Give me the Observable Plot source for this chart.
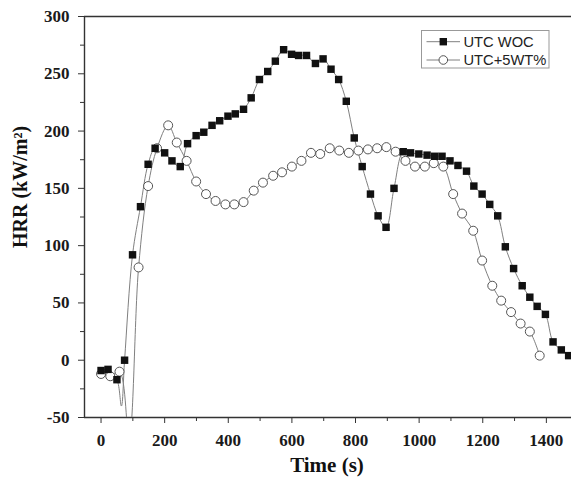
<!DOCTYPE html>
<html>
<head>
<meta charset="utf-8">
<script src="https://cdn.jsdelivr.net/npm/d3@7"></script>
<script src="https://cdn.jsdelivr.net/npm/@observablehq/plot@0.6"></script>
<style>
  html, body { margin: 0; padding: 0; background: #fff; }
  #wrap { position: relative; width: 571px; height: 478px; }
  #legend { position: absolute; left: 0; top: 0; pointer-events: none; }
</style>
</head>
<body>
<div id="wrap"></div>
<script>
// ---- data ----
const seriesNames = ["UTC WOC", "UTC+5WT%"];

const wocTime = [0, 22, 50, 74, 99, 124, 148, 170, 200, 223, 249, 272, 299, 323, 349, 373, 399, 422, 448, 472, 498, 524, 548, 574, 599, 621, 646, 674, 698, 723, 747, 771, 796, 821, 847, 871, 896, 921, 950, 973, 999, 1025, 1049, 1072, 1097, 1122, 1149, 1172, 1198, 1222, 1247, 1271, 1297, 1324, 1348, 1371, 1397, 1421, 1447, 1470];
const wocHRR  = [-9, -8, -17, 0, 92, 134, 171, 185, 181, 174, 169, 189, 196, 199, 205, 209, 213, 215, 219, 229, 245, 252, 261, 271, 267, 266, 266, 259, 263, 254, 245, 226, 194, 169, 145, 126, 116, 150, 182, 181, 180, 179, 178, 178, 174, 170, 165, 152, 145, 136, 126, 99, 80, 65, 55, 47, 40, 16, 9, 4];
// where the WOC trace dips between markers
const wocTraceExtraTime = [64];
const wocTraceExtraHRR  = [-40];

const wtTime = [0, 29, 58, 88, 118, 148, 176, 211, 238, 269, 299, 330, 360, 391, 419, 448, 480, 509, 541, 569, 600, 630, 660, 689, 719, 749, 779, 809, 839, 868, 897, 926, 957, 987, 1018, 1046, 1076, 1107, 1135, 1170, 1198, 1230, 1258, 1289, 1319, 1348, 1379];
const wtHRR  = [-12, -14, -10, -68, 81, 152, 185, 205, 190, 174, 156, 145, 139, 136, 136, 138, 148, 155, 161, 164, 169, 174, 181, 180, 185, 183, 181, 183, 184, 185, 186, 182, 174, 169, 169, 172, 169, 145, 128, 113, 87, 65, 52, 42, 32, 25, 4];

const xMajor = [0, 200, 400, 600, 800, 1000, 1200, 1400];
const xMinor = [100, 300, 500, 700, 900, 1100, 1300];
const yMajor = [-50, 0, 50, 100, 150, 200, 250, 300];
const yMinor = [-25, 25, 75, 125, 175, 225, 275];
const xTitle = "Time (s)";
const yTitle = "HRR (kW/m²)";

// ---- tables ----
const woc = wocTime.map((t, i) => ({t, v: wocHRR[i]}));
const wt = wtTime.map((t, i) => ({t, v: wtHRR[i]}));
const wocTrace = woc.concat(wocTraceExtraTime.map((t, i) => ({t, v: wocTraceExtraHRR[i]})))
  .sort((a, b) => a.t - b.t);

const serif = "'Liberation Serif', 'Times New Roman', serif";
const axisColor = "#333";
const xDom = [-52, 1479];
const yDom = [-50, 300];
const fmt = d => String(d);

const chart = Plot.plot({
  width: 571,
  height: 478,
  marginLeft: 84,
  marginRight: 0,
  marginTop: 16,
  marginBottom: 61,
  x: {domain: xDom},
  y: {domain: yDom},
  style: {background: "#fff", color: "#1a1a1a", fontFamily: serif, fontWeight: "bold", fontSize: "17px"},
  marks: [
    // minor ticks
    Plot.axisX(xMinor, {tickSize: 4, tickFormat: () => "", label: null, stroke: axisColor}),
    Plot.axisY(yMinor, {tickSize: 4, tickFormat: () => "", label: null, stroke: axisColor}),
    // major ticks
    Plot.axisX(xMajor, {tickSize: 6, tickPadding: 10, label: null, stroke: axisColor, tickFormat: fmt,
      fontSize: 17, fill: "#1a1a1a"}),
    Plot.axisY(yMajor, {tickSize: 6, tickPadding: 9, label: null, stroke: axisColor, tickFormat: fmt,
      fontSize: 17, fill: "#1a1a1a"}),
    // frame lines
    Plot.ruleX([xDom[0]], {stroke: axisColor, strokeWidth: 1.4}),
    Plot.ruleY([yDom[0]], {stroke: axisColor, strokeWidth: 1.4}),
    Plot.ruleY([yDom[1]], {stroke: axisColor, strokeWidth: 1.4}),
    // traces
    Plot.line(wocTrace, {x: "t", y: "v", curve: "catmull-rom", stroke: "#808080", strokeWidth: 1, clip: true}),
    Plot.line(wt, {x: "t", y: "v", curve: "catmull-rom", stroke: "#808080", strokeWidth: 1, clip: true}),
    Plot.dot(wt, {x: "t", y: "v", r: 4.5, fill: "white", stroke: "#555", strokeWidth: 1, clip: true}),
    Plot.dot(woc, {x: "t", y: "v", symbol: "square", r: 4.2, fill: "#111", stroke: "none", clip: true})
  ]
});

const wrap = document.getElementById("wrap");
wrap.appendChild(chart);

// force serif bold on all chart texts (tick labels)
const svg = d3.select(chart);
svg.selectAll("text").style("font-family", serif).style("font-weight", "bold");

// ---- axis titles ----
svg.append("text").attr("x", 327).attr("y", 465).attr("dy", "0.35em")
  .attr("text-anchor", "middle").style("font-family", serif).style("font-weight", "bold")
  .style("font-size", "21px").attr("fill", "#111").text(xTitle);
svg.append("text").attr("transform", "translate(20,187) rotate(-90)").attr("dy", "0.35em")
  .attr("text-anchor", "middle").style("font-family", serif).style("font-weight", "bold")
  .style("font-size", "20px").attr("fill", "#111").text(yTitle);

// ---- legend ----
const leg = d3.select(wrap).append("svg")
  .attr("id", "legend").attr("width", 571).attr("height", 478);
leg.append("rect").attr("x", 421.5).attr("y", 30.5).attr("width", 127.5).attr("height", 37.5)
  .attr("fill", "white").attr("stroke", "#999").attr("stroke-width", 1);
const rows = [41.7, 60];
seriesNames.forEach((name, i) => {
  const y = rows[i];
  leg.append("line").attr("x1", 426.5).attr("x2", 460).attr("y1", y).attr("y2", y)
    .attr("stroke", "#808080").attr("stroke-width", 1);
  if (i === 0) {
    leg.append("rect").attr("x", 443.3 - 3.7).attr("y", y - 3.7).attr("width", 7.4).attr("height", 7.4)
      .attr("fill", "#111");
  } else {
    leg.append("circle").attr("cx", 443.3).attr("cy", y).attr("r", 4.3)
      .attr("fill", "white").attr("stroke", "#555").attr("stroke-width", 1);
  }
  leg.append("text").attr("x", 463.5).attr("y", y).attr("dy", "0.35em")
    .style("font-family", "'Liberation Sans', Arial, sans-serif").style("font-size", "14.7px")
    .style("font-weight", "normal").attr("fill", "#222").text(name);
});
</script>
</body>
</html>
